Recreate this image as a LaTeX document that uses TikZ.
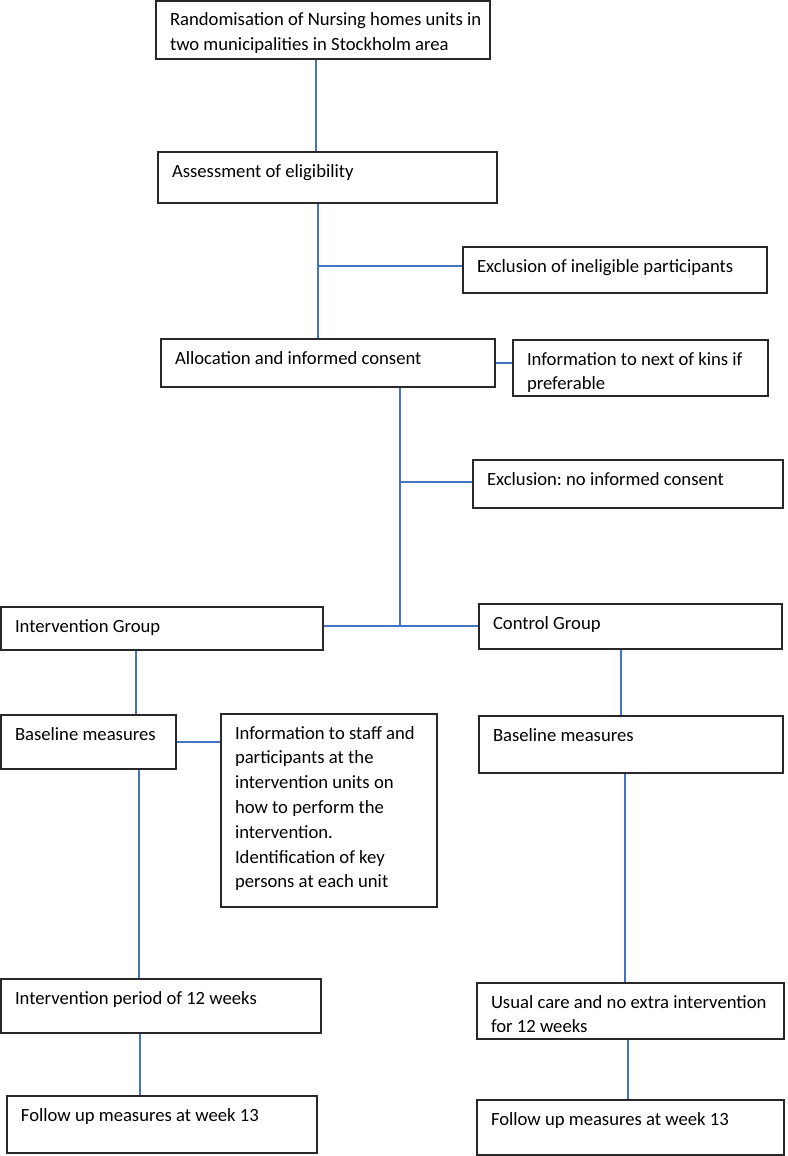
\documentclass[tikz,border=0pt]{standalone}
\usepackage{fontspec}
\setmainfont{Carlito}
\frenchspacing
\definecolor{lineblue}{RGB}{68,114,196}
\definecolor{boxline}{RGB}{40,40,40}
\tikzset{
  box/.style={draw=boxline, line width=1pt, inner sep=0pt, fill=white,
    font=\fontsize{14}{18.6}\selectfont},
  conn/.style={draw=lineblue, line width=0.8pt},
}
\newcommand{\flowbox}[6]{%
  \pgfmathsetlengthmacro{\bw}{(#4-#2)*0.75pt}%
  \pgfmathsetlengthmacro{\bh}{(#5-#3)*0.75pt}%
  \pgfmathsetlengthmacro{\tw}{(#4-#2-14)*0.75pt}%
  \node[box, minimum width=\bw, minimum height=\bh] (#1) at ({(#2+#4)/2},{(#3+#5)/2})
    {\hspace*{10.5pt}\parbox[c][\bh][t]{\tw}{\raggedright\frenchspacing\rule{0pt}{18.75pt}#6}};%
}
\begin{document}
\begin{tikzpicture}[x=0.75pt,y=-0.75pt]
\useasboundingbox[fill=white] (0,0) rectangle (788,1156);
% boxes
\flowbox{b1}{156}{1}{490}{59}{Randomisation of Nursing homes units in\\two municipalities in Stockholm area}
\flowbox{b2}{158}{152}{497}{203}{Assessment of eligibility}
\flowbox{ex1}{463}{247}{767}{293}{Exclusion of ineligible participants}
\flowbox{b3}{161}{339}{495}{387}{Allocation and informed consent}
\flowbox{kins}{513}{340}{768}{396}{Information to next of kins if\\preferable}
\flowbox{ex2}{473}{460}{783}{508}{Exclusion: no informed consent}
\flowbox{ig}{1}{607}{323}{650}{Intervention Group}
\flowbox{cg}{479}{604}{782}{649}{Control Group}
\flowbox{bl}{1}{715}{176}{769}{Baseline measures}
\flowbox{info}{221}{714}{437}{907}{Information to staff and\\participants at the\\intervention units on\\how to perform the\\intervention.\\Identification of key\\persons at each unit}
\flowbox{br}{479}{716}{783}{773}{Baseline measures}
\flowbox{ip}{1}{979}{321}{1033}{Intervention period of 12 weeks}
\flowbox{uc}{477}{983}{784}{1039}{Usual care and no extra intervention\\for 12 weeks}
\flowbox{fl}{7}{1096}{317}{1153}{Follow up measures at week 13}
\flowbox{fr}{477}{1100}{784}{1155}{Follow up measures at week 13}
% junction coordinates
\coordinate (c12) at (316,105);
\coordinate (j1) at (318,266);
\coordinate (j2) at (400,482);
\coordinate (j3) at (400,626);
\coordinate (cl1) at (136,680);
\coordinate (cl2) at (139,870);
\coordinate (cl3) at (140,1065);
\coordinate (cr1) at (621,680);
\coordinate (cr2) at (625,880);
\coordinate (cr3) at (628,1070);
% connectors
\draw[conn] (b1.south -| c12) -- (b2.north -| c12);
\draw[conn] (b2.south -| j1) -- (b3.north -| j1);
\draw[conn] (j1) -- (ex1.west |- j1);
\draw[conn] (b3.east) -- (kins.west |- b3.east);
\draw[conn] (b3.south -| j2) -- (j3);
\draw[conn] (j2) -- (ex2.west |- j2);
\draw[conn] (ig.east |- j3) -- (cg.west |- j3);
\draw[conn] (ig.south -| cl1) -- (bl.north -| cl1);
\draw[conn] (bl.east) -- (info.west |- bl.east);
\draw[conn] (bl.south -| cl2) -- (ip.north -| cl2);
\draw[conn] (ip.south -| cl3) -- (fl.north -| cl3);
\draw[conn] (cg.south -| cr1) -- (br.north -| cr1);
\draw[conn] (br.south -| cr2) -- (uc.north -| cr2);
\draw[conn] (uc.south -| cr3) -- (fr.north -| cr3);
\end{tikzpicture}
\end{document}
